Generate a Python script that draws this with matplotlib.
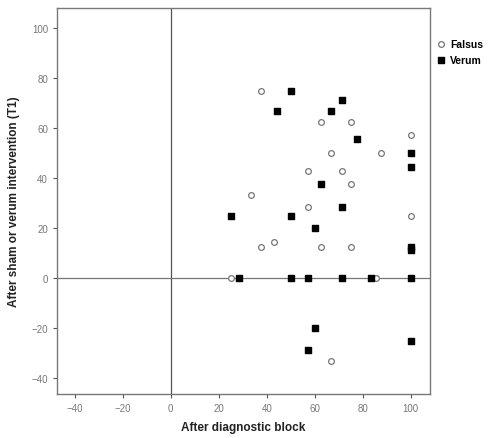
import matplotlib.pyplot as plt

# Falsus (sham) group
falsus_x = [37.5, 62.5, 75, 100, 66.7, 87.5, 57.1, 71.4, 75, 33.3, 57.1,
            100, 37.5, 42.9, 62.5, 75, 25, 85.7, 66.7]
falsus_y = [75, 62.5, 62.5, 57.1, 50, 50, 42.9, 42.9, 37.5, 33.3, 28.6,
            25, 12.5, 14.3, 12.5, 12.5, 0, 0, -33.3]

# Verum group
verum_x = [50, 71.4, 44.4, 66.7, 77.8, 100, 100, 62.5, 71.4, 25, 50, 60,
           100, 100, 28.6, 50, 57.1, 71.4, 83.3, 100, 60, 100, 57.1]
verum_y = [75, 71.4, 66.7, 66.7, 55.6, 50, 44.4, 37.5, 28.6, 25, 25, 20,
           12.5, 11.1, 0, 0, 0, 0, 0, 0, -20, -25, -28.6]

x_ticks = [-40, -20, 0, 20, 40, 60, 80, 100]
y_ticks = [-40, -20, 0, 20, 40, 60, 80, 100]

plt.rcParams['font.family'] = ['Liberation Sans', 'DejaVu Sans']

fig = plt.figure(figsize=(4.9, 4.39), dpi=100)
ax = fig.add_axes([0.1163, 0.1002, 0.7612, 0.8793])

# reference lines at zero
ax.axvline(0, color='#555555', linewidth=0.9, zorder=1)
ax.axhline(0, color='#777777', linewidth=0.9, zorder=1)

ax.scatter(falsus_x, falsus_y, s=17, facecolors='white', edgecolors='#777777',
           linewidths=0.9, marker='o', label='Falsus', zorder=3)
ax.scatter(verum_x, verum_y, s=16, color='black', marker='s',
           label='Verum', zorder=3)

ax.set_xlim(-47.4, 108)
ax.set_ylim(-46.3, 108)
ax.set_xticks(x_ticks)
ax.set_yticks(y_ticks)
ax.tick_params(labelsize=7, colors='#555555', labelcolor='#777777',
               length=3, width=0.8)
for s in ax.spines.values():
    s.set_color('#777777')
    s.set_linewidth(1.0)

ax.set_xlabel('After diagnostic block', fontsize=8.5, fontweight='bold',
              color='#222222', labelpad=6)
ax.set_ylabel('After sham or verum intervention (T1)', fontsize=8.5,
              fontweight='bold', color='#222222', labelpad=8)

ax.legend(loc='upper left', bbox_to_anchor=(1.005, 0.93), frameon=False,
          prop={'size': 7.5, 'weight': 'bold'}, handletextpad=0.35,
          borderaxespad=0, labelspacing=0.55, handlelength=1.0)

fig.savefig('out.png', dpi=100)
